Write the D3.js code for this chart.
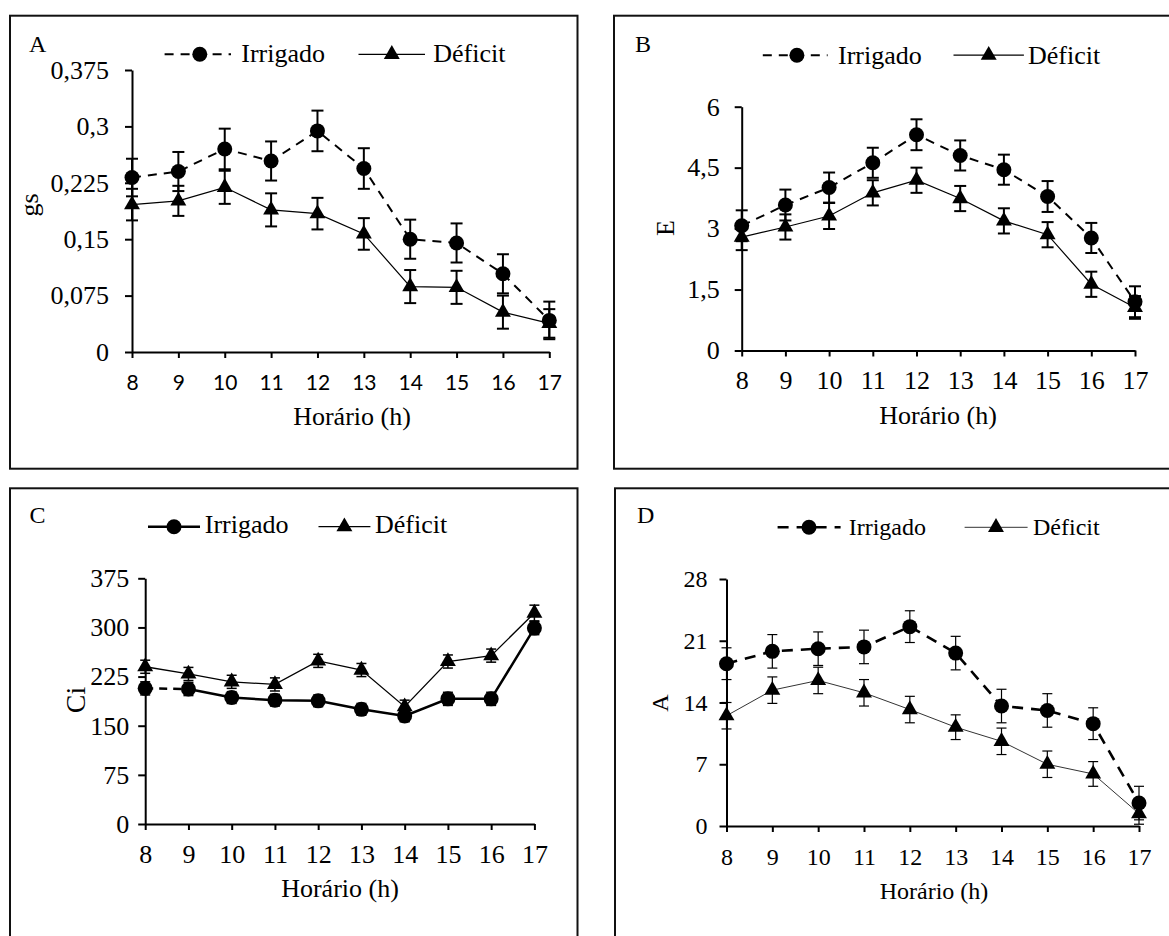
<!DOCTYPE html>
<html>
<head>
<meta charset="utf-8">
<script src="https://cdn.jsdelivr.net/npm/d3@7"></script>
<style>
  body { margin: 0; background: #fff; }
  svg { display: block; }
  .serif { font-family: "Liberation Serif", "Times New Roman", serif; }
  .sans { font-family: "Lato", "Liberation Sans", sans-serif; }
</style>
</head>
<body>
<script>
// horas do dia (eixo x, comum aos 4 gráficos)
const hours = [8, 9, 10, 11, 12, 13, 14, 15, 16, 17];

// A - condutância estomática (gs)
const gsTicks = [0, 0.075, 0.15, 0.225, 0.3, 0.375];
const gsIrrigado = [0.232, 0.240, 0.270, 0.254, 0.294, 0.244, 0.150, 0.145, 0.104, 0.042];
const gsIrrigadoErr = [0.025, 0.026, 0.027, 0.026, 0.027, 0.027, 0.026, 0.026, 0.026, 0.025];
const gsDeficit = [0.196, 0.201, 0.219, 0.189, 0.184, 0.157, 0.087, 0.086, 0.053, 0.038];
const gsDeficitErr = [0.021, 0.020, 0.022, 0.022, 0.021, 0.021, 0.022, 0.022, 0.022, 0.019];

// B - transpiração (E)
const eTicks = [0, 1.5, 3, 4.5, 6];
const eIrrigado = [3.07, 3.58, 4.01, 4.62, 5.31, 4.80, 4.45, 3.79, 2.77, 1.20];
const eIrrigadoErr = [0.38, 0.38, 0.37, 0.37, 0.38, 0.37, 0.37, 0.38, 0.37, 0.38];
const eDeficit = [2.79, 3.04, 3.31, 3.88, 4.19, 3.74, 3.19, 2.85, 1.63, 1.06];
const eDeficitErr = [0.32, 0.31, 0.32, 0.31, 0.31, 0.31, 0.31, 0.31, 0.31, 0.28];

// C - concentração interna de CO2 (Ci)
const ciTicks = [0, 75, 150, 225, 300, 375];
const ciIrrigado = [207, 206, 193, 189, 188, 175, 165, 191, 191, 299];
const ciIrrigadoErr = [10, 10, 9, 9, 9, 9, 9, 10, 10, 10];
const ciDeficit = [240, 229, 217, 213, 249, 235, 179, 248, 257, 322];
const ciDeficitErr = [10, 10, 10, 10, 10, 10, 10, 10, 10, 12];

// D - fotossíntese (A)
const aTicks = [0, 7, 14, 21, 28];
const aIrrigado = [18.4, 19.8, 20.1, 20.3, 22.6, 19.6, 13.6, 13.1, 11.6, 2.6];
const aIrrigadoErr = [1.8, 1.9, 1.9, 1.9, 1.8, 1.9, 1.9, 1.9, 1.8, 1.9];
const aDeficit = [12.5, 15.4, 16.5, 15.1, 13.2, 11.2, 9.6, 7.0, 5.9, 1.4];
const aDeficitErr = [1.5, 1.5, 1.5, 1.5, 1.5, 1.4, 1.5, 1.5, 1.4, 1.2];

const comma = d => String(d).replace(".", ",");

const svg = d3.select("body").append("svg")
    .attr("width", 1169)
    .attr("height", 936);

const panels = [
    {
        letter: "A", ylabel: "gs", box: [10, 15.7, 567.5, 453],
        xr: [132, 549.3], yr: [352, 70], ticks: gsTicks,
        irr: gsIrrigado, irrErr: gsIrrigadoErr, def: gsDeficit, defErr: gsDeficitErr,
        xClass: "sans", xSize: 21, xPad: 17, yPad: 16, fs: 26, titleX: 352,
        letterPos: [29, 51.7], ylabelPos: [38, 205],
        leg: { y: 54.3, base: 61.7, irr: [164.6, 231, 199.8, 241.3], def: [358.5, 425, 391.8, 433.3] },
        irrDash: "9,7", irrW: 2, defW: 1.2, errW: 2, cap: 6, defColor: "#000", irrDashedAll: true
    },
    {
        letter: "B", ylabel: "E", box: [614, 15.7, 600, 453],
        xr: [741.7, 1135], yr: [350.5, 106.7], ticks: eTicks,
        irr: eIrrigado, irrErr: eIrrigadoErr, def: eDeficit, defErr: eDeficitErr,
        xClass: "serif", xSize: 26, xPad: 14.5, yPad: 15, fs: 26, titleX: 938,
        letterPos: [635, 52], ylabelPos: [674, 228],
        leg: { y: 55.2, base: 63.5, irr: [762.8, 827.6, 796.9, 838], def: [953.5, 1023.9, 988.7, 1028] },
        irrDash: "9,7", irrW: 2, defW: 1.2, errW: 2, cap: 6, defColor: "#000", irrDashedAll: true
    },
    {
        letter: "C", ylabel: "Ci", box: [10, 488.3, 567.5, 460],
        xr: [145.2, 534.4], yr: [824, 578.3], ticks: ciTicks,
        irr: ciIrrigado, irrErr: ciIrrigadoErr, def: ciDeficit, defErr: ciDeficitErr,
        xClass: "serif", xSize: 26, xPad: 14.5, yPad: 9, fs: 26, titleX: 340,
        letterPos: [29.6, 523.3], ylabelPos: [85, 700],
        leg: { y: 526.7, base: 533.3, irr: [148, 200, 174, 204.8], def: [318.5, 370.4, 344.4, 375] },
        irrDash: null, irrW: 2.5, defW: 1.3, errW: 1.5, cap: 5, defColor: "#000", irrDashedAll: false
    },
    {
        letter: "D", ylabel: "A", box: [615, 488.3, 600, 460],
        xr: [726.5, 1139], yr: [826, 579], ticks: aTicks,
        irr: aIrrigado, irrErr: aIrrigadoErr, def: aDeficit, defErr: aDeficitErr,
        xClass: "serif", xSize: 24, xPad: 16, yPad: 12, fs: 24, titleX: 934,
        letterPos: [637, 523.3], ylabelPos: [668, 703],
        leg: { y: 527.3, base: 535, irr: [777.6, 840.6, 809, 848.7], def: [964.6, 1027.6, 996, 1033] },
        irrDash: "11,8", irrW: 2.6, defW: 1, errW: 1.2, cap: 5, defColor: "#333", irrDashedAll: true
    }
];

const tri = d3.symbol().type(d3.symbolTriangle).size(110)();

panels.forEach(p => {
    const g = svg.append("g");
    const [bx, by, bw, bh] = p.box;

    // moldura do gráfico
    g.append("rect")
        .attr("x", bx).attr("y", by).attr("width", bw).attr("height", bh)
        .attr("fill", "none").attr("stroke", "#111").attr("stroke-width", 2);

    const x = d3.scaleLinear().domain([8, 17]).range(p.xr);
    const y = d3.scaleLinear().domain([0, d3.max(p.ticks)]).range(p.yr);

    // EIXOS
    const xAxis = d3.axisBottom(x).tickValues(hours).tickSize(6).tickSizeOuter(0).tickPadding(p.xPad);
    const yAxis = d3.axisLeft(y).tickValues(p.ticks).tickSize(7).tickSizeOuter(0).tickPadding(p.yPad).tickFormat(comma);

    const gx = g.append("g").attr("transform", `translate(0, ${p.yr[0]})`).call(xAxis);
    gx.attr("font-family", null).attr("font-size", null);
    gx.selectAll("text").attr("class", p.xClass).style("font-size", p.xSize + "px");
    const gy = g.append("g").attr("transform", `translate(${p.xr[0]}, 0)`).call(yAxis);
    gy.attr("font-family", null).attr("font-size", null);
    gy.selectAll("text").attr("class", "serif").style("font-size", p.fs + "px");
    [gx, gy].forEach(a => {
        a.selectAll("path, line").attr("stroke", "#000").attr("stroke-width", 2);
        a.selectAll("text").attr("fill", "#000");
    });

    g.append("text")
        .attr("class", "serif")
        .attr("x", p.titleX).attr("y", p.yr[0] + 73)
        .attr("text-anchor", "middle")
        .style("font-size", p.fs + "px")
        .text("Horário (h)");

    g.append("text")
        .attr("class", "serif")
        .attr("transform", `translate(${p.ylabelPos[0]}, ${p.ylabelPos[1]}) rotate(-90)`)
        .attr("text-anchor", "middle")
        .style("font-size", (p.letter === "C" ? 28 : p.fs) + "px")
        .text(p.ylabel);

    g.append("text")
        .attr("class", "serif")
        .attr("x", p.letterPos[0]).attr("y", p.letterPos[1])
        .style("font-size", "24px")
        .text(p.letter);

    // LINHAS
    const line = d3.line().x((d, i) => x(hours[i])).y(d => y(d));
    g.append("path")
        .attr("d", line(p.def))
        .attr("fill", "none").attr("stroke", p.defColor).attr("stroke-width", p.defW);

    if (p.irrDashedAll) {
        g.append("path")
            .attr("d", line(p.irr))
            .attr("fill", "none").attr("stroke", "#000").attr("stroke-width", p.irrW)
            .attr("stroke-dasharray", p.irrDash);
    } else {
        // no C só o primeiro trecho é tracejado
        g.append("path")
            .attr("d", line(p.irr.slice(0, 2)))
            .attr("fill", "none").attr("stroke", "#000").attr("stroke-width", p.irrW)
            .attr("stroke-dasharray", "8,6");
        g.append("path")
            .attr("d", d3.line().x((d, i) => x(hours[i + 1])).y(d => y(d))(p.irr.slice(1)))
            .attr("fill", "none").attr("stroke", "#000").attr("stroke-width", p.irrW);
    }

    // BARRAS DE ERRO
    const errBars = (vals, errs) => {
        const eb = g.append("g").attr("stroke", "#000").attr("stroke-width", p.errW);
        vals.forEach((v, i) => {
            const cx = x(hours[i]);
            eb.append("line").attr("x1", cx).attr("x2", cx).attr("y1", y(v - errs[i])).attr("y2", y(v + errs[i]));
            eb.append("line").attr("x1", cx - p.cap).attr("x2", cx + p.cap).attr("y1", y(v + errs[i])).attr("y2", y(v + errs[i]));
            eb.append("line").attr("x1", cx - p.cap).attr("x2", cx + p.cap).attr("y1", y(v - errs[i])).attr("y2", y(v - errs[i]));
        });
    };
    errBars(p.irr, p.irrErr);
    errBars(p.def, p.defErr);

    // MARCADORES
    g.selectAll(null).data(p.irr).enter().append("circle")
        .attr("cx", (d, i) => x(hours[i])).attr("cy", d => y(d)).attr("r", 7.5)
        .attr("fill", "#000");
    g.selectAll(null).data(p.def).enter().append("path")
        .attr("d", tri)
        .attr("transform", (d, i) => `translate(${x(hours[i])}, ${y(d)})`)
        .attr("fill", "#000");

    // LEGENDA
    const L = p.leg;
    g.append("line")
        .attr("x1", L.irr[0]).attr("x2", L.irr[1]).attr("y1", L.y).attr("y2", L.y)
        .attr("stroke", "#000").attr("stroke-width", p.irrW)
        .attr("stroke-dasharray", p.irrDashedAll ? p.irrDash : null);
    g.append("circle").attr("cx", L.irr[2]).attr("cy", L.y).attr("r", 7.5).attr("fill", "#000");
    g.append("text").attr("class", "serif").attr("x", L.irr[3]).attr("y", L.base)
        .style("font-size", p.fs + "px").text("Irrigado");
    g.append("line")
        .attr("x1", L.def[0]).attr("x2", L.def[1]).attr("y1", L.y).attr("y2", L.y)
        .attr("stroke", p.defColor).attr("stroke-width", p.defW);
    g.append("path").attr("d", tri)
        .attr("transform", `translate(${L.def[2]}, ${L.y})`).attr("fill", "#000");
    g.append("text").attr("class", "serif").attr("x", L.def[3]).attr("y", L.base)
        .style("font-size", p.fs + "px").text("Déficit");
});
</script>
</body>
</html>
